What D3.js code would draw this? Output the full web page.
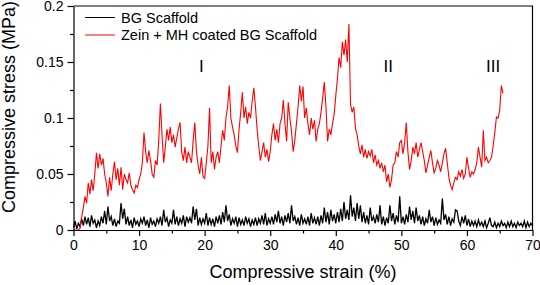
<!DOCTYPE html>
<html>
<head>
<meta charset="utf-8">
<script src="https://cdn.jsdelivr.net/npm/d3@7"></script>
<style>
  body { margin: 0; background: #fff; }
  svg { display: block; font-family: "Liberation Sans", Arial, sans-serif; }
</style>
</head>
<body>
<script>
// Compressive stress vs strain, two scaffolds

const strainStep = 0.25;   // both curves sampled every 0.25 % strain, starting at 0

// BG Scaffold (MPa)
const bgStress = [
  0.002, 0.008, 0.001, 0.006,  0.003, 0.010, 0.004, 0.012,  0.005, 0.011, 0.003, 0.013,
  0.006, 0.009, 0.002, 0.008,  0.004, 0.012, 0.006, 0.017,  0.005, 0.021, 0.008, 0.012,
  0.004, 0.010, 0.003, 0.008,  0.006, 0.024, 0.010, 0.019,  0.005, 0.012, 0.004, 0.009,
  0.002, 0.011, 0.005, 0.008,  0.003, 0.010, 0.006, 0.012,  0.004, 0.009, 0.002, 0.011,
  0.005, 0.008, 0.003, 0.010,  0.006, 0.012, 0.004, 0.018,  0.007, 0.011, 0.003, 0.009,
  0.006, 0.018, 0.005, 0.012,  0.004, 0.010, 0.006, 0.013,  0.003, 0.012, 0.007, 0.011,
  0.006, 0.021, 0.009, 0.019,  0.004, 0.011, 0.005, 0.010,  0.006, 0.015, 0.004, 0.011,
  0.005, 0.010, 0.003, 0.012,  0.006, 0.013, 0.005, 0.016,  0.007, 0.022, 0.008, 0.014,
  0.004, 0.010, 0.006, 0.012,  0.003, 0.011, 0.005, 0.009,  0.004, 0.012, 0.006, 0.010,
  0.003, 0.009, 0.005, 0.011,  0.004, 0.010, 0.006, 0.013,  0.005, 0.015, 0.004, 0.010,
  0.006, 0.012, 0.005, 0.014,  0.007, 0.017, 0.006, 0.012,  0.004, 0.013, 0.007, 0.015,
  0.006, 0.022, 0.008, 0.012,  0.005, 0.011, 0.004, 0.014,  0.006, 0.010, 0.005, 0.012,
  0.004, 0.015, 0.006, 0.011,  0.005, 0.012, 0.004, 0.013,  0.006, 0.020, 0.007, 0.016,
  0.005, 0.018, 0.008, 0.014,  0.006, 0.016, 0.007, 0.019,  0.008, 0.025, 0.010, 0.018,
  0.009, 0.031, 0.012, 0.020,  0.008, 0.024, 0.010, 0.022,  0.007, 0.016, 0.006, 0.013,
  0.005, 0.020, 0.008, 0.012,  0.006, 0.014, 0.007, 0.022,  0.005, 0.012, 0.004, 0.011,
  0.006, 0.022, 0.008, 0.015,  0.005, 0.013, 0.007, 0.030,  0.006, 0.012, 0.005, 0.014,
  0.007, 0.021, 0.009, 0.017,  0.006, 0.020, 0.008, 0.013,  0.005, 0.012, 0.004, 0.010,
  0.006, 0.018, 0.007, 0.012,  0.004, 0.011, 0.005, 0.009,  0.006, 0.028, 0.009, 0.014,
  0.005, 0.012, 0.004, 0.010,  0.007, 0.018, 0.017, 0.008,  0.004, 0.012, 0.006, 0.013,
  0.004, 0.010, 0.003, 0.008,  0.004, 0.008, 0.003, 0.009,  0.004, 0.007, 0.003, 0.008,
  0.002, 0.006, 0.011, 0.004,  0.003, 0.007, 0.002, 0.006,  0.003, 0.008, 0.004, 0.006,
  0.002, 0.007, 0.003, 0.008,  0.003, 0.006, 0.002, 0.007,  0.004, 0.006, 0.003, 0.008,
  0.002, 0.007, 0.003, 0.006,  0.004
];

// Zein + MH coated BG Scaffold (MPa)
const coatedStress = [
  0.000, 0.000, 0.000, 0.000,  0.002, 0.012, 0.020, 0.030,  0.024, 0.042, 0.032, 0.045,
  0.035, 0.050, 0.069, 0.055,  0.068, 0.058, 0.064, 0.050,  0.042, 0.030, 0.047, 0.035,
  0.050, 0.061, 0.045, 0.055,  0.040, 0.056, 0.036, 0.050,  0.045, 0.042, 0.051, 0.040,
  0.036, 0.033, 0.040, 0.038,  0.045, 0.050, 0.060, 0.087,  0.070, 0.060, 0.071, 0.062,
  0.050, 0.047, 0.062, 0.058,  0.080, 0.113, 0.085, 0.060,  0.074, 0.090, 0.080, 0.092,
  0.078, 0.085, 0.074, 0.082,  0.090, 0.096, 0.070, 0.062,  0.074, 0.060, 0.070, 0.065,
  0.060, 0.080, 0.096, 0.070,  0.058, 0.050, 0.065, 0.048,  0.046, 0.060, 0.075, 0.109,
  0.060, 0.070, 0.054, 0.065,  0.070, 0.060, 0.075, 0.089,  0.080, 0.100, 0.110, 0.129,
  0.100, 0.092, 0.085, 0.075,  0.069, 0.090, 0.105, 0.123,  0.100, 0.110, 0.095, 0.105,
  0.100, 0.115, 0.127, 0.110,  0.090, 0.075, 0.062, 0.070,  0.078, 0.065, 0.072, 0.061,
  0.070, 0.085, 0.095, 0.080,  0.090, 0.078, 0.095, 0.100,  0.116, 0.095, 0.079, 0.114,
  0.100, 0.088, 0.070, 0.080,  0.095, 0.110, 0.129, 0.115,  0.128, 0.100, 0.109, 0.095,
  0.085, 0.100, 0.090, 0.098,  0.079, 0.090, 0.095, 0.105,  0.118, 0.132, 0.110, 0.079,
  0.090, 0.085, 0.095, 0.103,  0.120, 0.135, 0.154, 0.145,  0.168, 0.156, 0.170, 0.150,
  0.184, 0.112, 0.105, 0.110,  0.091, 0.085, 0.075, 0.068,  0.076, 0.065, 0.072, 0.064,
  0.070, 0.066, 0.072, 0.060,  0.067, 0.058, 0.062, 0.055,  0.060, 0.052, 0.058, 0.043,
  0.050, 0.038, 0.045, 0.058,  0.060, 0.070, 0.065, 0.078,  0.080, 0.068, 0.078, 0.096,
  0.070, 0.054, 0.062, 0.074,  0.068, 0.078, 0.065, 0.072,  0.078, 0.070, 0.062, 0.051,
  0.058, 0.065, 0.071, 0.060,  0.051, 0.055, 0.062, 0.058,  0.052, 0.060, 0.068, 0.073,
  0.060, 0.047, 0.040, 0.036,  0.042, 0.047, 0.045, 0.052,  0.048, 0.054, 0.046, 0.050,
  0.065, 0.055, 0.047, 0.052,  0.050, 0.054, 0.060, 0.074,  0.065, 0.056, 0.089, 0.062,
  0.065, 0.060, 0.062, 0.065,  0.075, 0.087, 0.101, 0.100,  0.107, 0.129, 0.122
];

const xTicks = [0, 10, 20, 30, 40, 50, 60, 70];
const yTicks = [0, 0.05, 0.1, 0.15, 0.2];
const seriesNames = ["BG Scaffold", "Zein + MH coated BG Scaffold"];
const stageLabels = ["I", "II", "III"];
const stageStrain = [19.5, 48, 64];

const width = 540, height = 285;
const margin = {top: 6, right: 7.5, bottom: 55, left: 73.5};

const svg = d3.select("body").append("svg")
    .attr("width", width)
    .attr("height", height);

const x = d3.scaleLinear().domain([0, 70]).range([margin.left, width - margin.right]);
const y = d3.scaleLinear().domain([0, 0.2]).range([height - margin.bottom, margin.top]);

const toPoints = arr => arr.map((v, i) => [i * strainStep, v]);

const line = d3.line()
    .x(d => x(d[0]))
    .y(d => y(d[1]));

// curves
svg.append("path")
    .datum(toPoints(bgStress))
    .attr("fill", "none")
    .attr("stroke", "#000")
    .attr("stroke-width", 1.3)
    .attr("d", line);

svg.append("path")
    .datum(toPoints(coatedStress))
    .attr("fill", "none")
    .attr("stroke", "#ff0000")
    .attr("stroke-width", 1.1)
    .attr("d", line);

// frame (top + right)
svg.append("path")
    .attr("d", `M${x(0)},${y(0.2)}H${x(70)}V${y(0)}`)
    .attr("fill", "none")
    .attr("stroke", "#000")
    .attr("stroke-width", 1.2);

// axes
svg.append("g")
    .attr("transform", `translate(0,${y(0)})`)
    .call(d3.axisBottom(x).tickValues(xTicks).tickSize(6).tickSizeOuter(0).tickPadding(4));

svg.append("g")
    .attr("transform", `translate(0,${y(0)})`)
    .call(d3.axisBottom(x).tickValues(xTicks.slice(0, -1).map(t => t + 5)).tickSize(3.5).tickFormat(""))
    .select(".domain").remove();

svg.append("g")
    .attr("transform", `translate(${x(0)},0)`)
    .call(d3.axisLeft(y).tickValues(yTicks).tickSize(6).tickSizeOuter(0).tickPadding(4)
      .tickFormat(d => d3.format("")(+d.toFixed(2))));

svg.append("g")
    .attr("transform", `translate(${x(0)},0)`)
    .call(d3.axisLeft(y).tickValues(yTicks.slice(0, -1).map(t => t + 0.025)).tickSize(3.5).tickFormat(""))
    .select(".domain").remove();

svg.selectAll(".domain, .tick line").attr("stroke", "#000").attr("stroke-width", 1.2);
svg.selectAll(".tick text")
    .attr("fill", "#000")
    .style("font-size", "14px")
    .style("font-family", "'Liberation Sans', Arial, sans-serif");

// axis titles
svg.append("text")
    .attr("x", (x(0) + x(70)) / 2)
    .attr("y", 278)
    .attr("text-anchor", "middle")
    .style("font-size", "18px")
    .text("Compressive strain (%)");

svg.append("text")
    .attr("transform", `translate(15,${107}) rotate(-90)`)
    .attr("text-anchor", "middle")
    .style("font-size", "18px")
    .text("Compressive stress (MPa)");

// legend
const legendColors = ["#000", "#ff0000"];
const legend = svg.append("g");
seriesNames.forEach((name, i) => {
  const ly = 17.5 + i * 17.5;
  legend.append("line")
      .attr("x1", 85).attr("x2", 115)
      .attr("y1", ly).attr("y2", ly)
      .attr("stroke", legendColors[i])
      .attr("stroke-width", 1);
  legend.append("text")
      .attr("x", 121)
      .attr("y", ly + 5)
      .style("font-size", "14.5px")
      .text(name);
});

// stage labels
svg.selectAll(".stage")
    .data(stageLabels)
    .enter()
    .append("text")
    .attr("class", "stage")
    .attr("x", (d, i) => x(stageStrain[i]))
    .attr("y", 72)
    .attr("text-anchor", "middle")
    .style("font-size", "17px")
    .text(d => d);
</script>
</body>
</html>
